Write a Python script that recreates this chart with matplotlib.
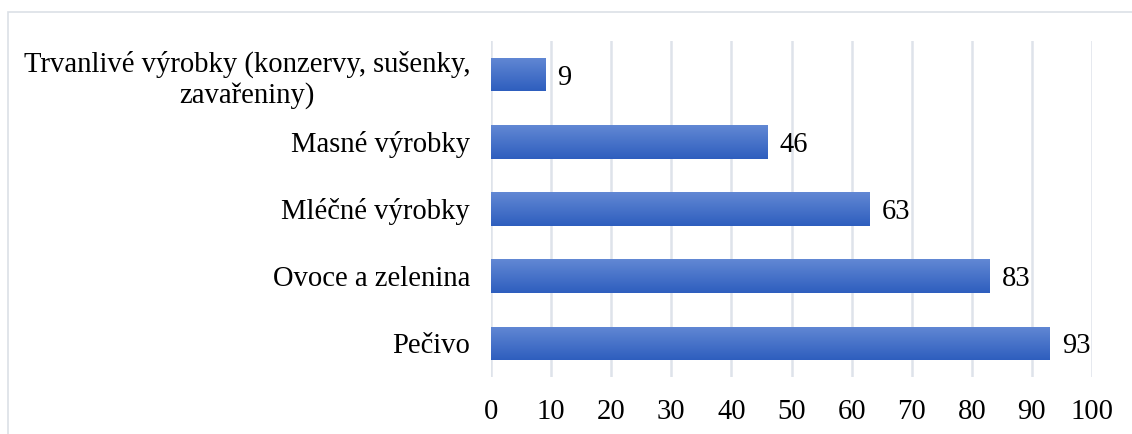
import numpy as np
import matplotlib.pyplot as plt
from matplotlib.patches import Rectangle

# data
categories = ["Pečivo", "Ovoce a zelenina", "Mléčné výrobky", "Masné výrobky",
              "Trvanlivé výrobky (konzervy, sušenky,\nzavařeniny)"]
values = [93, 83, 63, 46, 9]
x_ticks = [0, 10, 20, 30, 40, 50, 60, 70, 80, 90, 100]

plt.rcParams['font.family'] = ['Liberation Serif', 'DejaVu Serif']
FS = 20.6

fig = plt.figure(figsize=(11.32, 4.34), dpi=100)
ax = fig.add_axes([491 / 1132, 1 - 377 / 434, 601 / 1132, 336 / 434])

# outer border of the chart area
fig.patches.append(Rectangle((8 / 1132, -0.1), 1.2, (434 - 12) / 434 + 0.1,
                             transform=fig.transFigure, fill=False,
                             edgecolor='#DCE0E6', linewidth=1.2))

y = np.arange(len(categories))
bars = ax.barh(y, values, height=0.5, color='none')

# vertical gradient for every bar (lighter on top)
grad = np.linspace(0, 1, 256).reshape(-1, 1)
top_c = np.array([98, 136, 212]) / 255
bot_c = np.array([46, 94, 190]) / 255
img = top_c * (1 - grad[..., None]) + bot_c * grad[..., None]
for b in bars:
    x0, y0 = b.get_x(), b.get_y()
    w, h = b.get_width(), b.get_height()
    im = ax.imshow(img, extent=(x0, x0 + w, y0, y0 + h), aspect='auto',
                   origin='upper', zorder=2, interpolation='bilinear')
    im.set_clip_path(b)
    ax.text(x0 + w + 2, y0 + h / 2, str(int(w)), va='center_baseline', ha='left',
            fontsize=FS, color='black', zorder=3)

ax.set_xlim(0, 100)
ax.set_ylim(-0.5, len(categories) - 0.5)
ax.set_xticks(x_ticks)
ax.set_yticks(y)
ax.set_yticklabels(categories, fontsize=FS, ha='right', multialignment='center')
ax.tick_params(axis='x', labelsize=FS, length=0, pad=16)
ax.tick_params(axis='y', length=0, pad=15)
ax.grid(axis='x', color='#DEE3EA', linewidth=1.8, zorder=0)
ax.set_axisbelow(True)
for s in ax.spines.values():
    s.set_visible(False)

fig.savefig('out.png', dpi=100)
